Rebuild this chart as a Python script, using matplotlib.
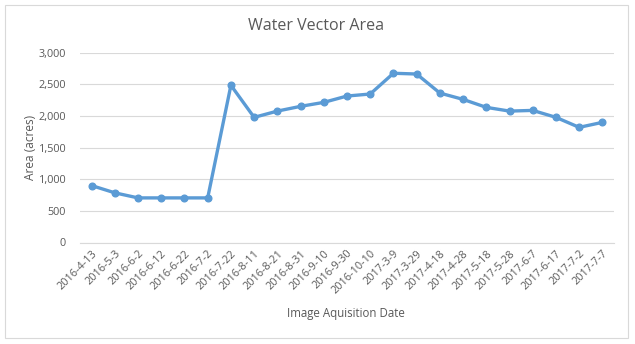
import matplotlib
matplotlib.use("Agg")
import matplotlib.pyplot as plt
from matplotlib.patches import Rectangle
from matplotlib.ticker import FuncFormatter

dates = ["2016-4-13", "2016-5-3", "2016-6-2", "2016-6-12", "2016-6-22", "2016-7-2",
         "2016-7-22", "2016-8-11", "2016-8-21", "2016-8-31", "2016-9-10", "2016-9-30",
         "2016-10-10", "2017-3-9", "2017-3-29", "2017-4-18", "2017-4-28", "2017-5-18",
         "2017-5-28", "2017-6-7", "2017-6-17", "2017-7-2", "2017-7-7"]
area = [900, 785, 705, 705, 705, 705,
        2485, 1978, 2077, 2152, 2215, 2315,
        2347, 2675, 2663, 2362, 2262, 2136,
        2077, 2088, 1978, 1820, 1899]
yticks = [0, 500, 1000, 1500, 2000, 2500, 3000]

plt.rcParams['font.family'] = ['Open Sans', 'DejaVu Sans']
grey = '#595959'

fig = plt.figure(figsize=(6.35, 3.44), dpi=100)
fig.patch.set_facecolor('white')
# chart border
fig.add_artist(Rectangle((4.5/635, 1 - 337.5/344), (628 - 4.5)/635, (337.5 - 4.5)/344,
                         transform=fig.transFigure, fill=False, edgecolor='#D9D9D9', lw=0.8))

ax = fig.add_axes([80/635, 1 - 242.5/344, 534/635, (242.5 - 52.7)/344])
x = list(range(len(dates)))
ax.plot(x, area, color='#5B9BD5', lw=2.4, marker='o', markersize=4.8, zorder=3)
ax.set_xlim(-0.5, len(dates) - 0.5)
ax.set_ylim(0, 3000)
ax.set_yticks(yticks)
ax.yaxis.set_major_formatter(FuncFormatter(lambda v, p: f"{int(v):,}"))
ax.set_xticks(x)
ax.set_xticklabels(dates, rotation=45, ha='right', rotation_mode='anchor')
ax.grid(axis='y', color='#D9D9D9', lw=0.8)
ax.set_axisbelow(True)
for s in ['top', 'right', 'left']:
    ax.spines[s].set_visible(False)
ax.spines['bottom'].set_color('#D9D9D9')
ax.tick_params(axis='both', length=0, colors=grey, labelsize=7.8)
ax.tick_params(axis='y', pad=10)
ax.tick_params(axis='x', pad=4)

fig.text(316/635, 1 - 26/344, "Water Vector Area", ha='center', va='center',
         fontsize=11.5, color=grey)
fig.text(31/635, 1 - 147/344, "Area (acres)", ha='center', va='center',
         rotation=90, fontsize=8.6, color=grey)
fig.text(346/635, 1 - 313/344, "Image Aquisition Date", ha='center', va='center',
         fontsize=8.3, color=grey)

fig.savefig("out.png", dpi=100, facecolor='white')
